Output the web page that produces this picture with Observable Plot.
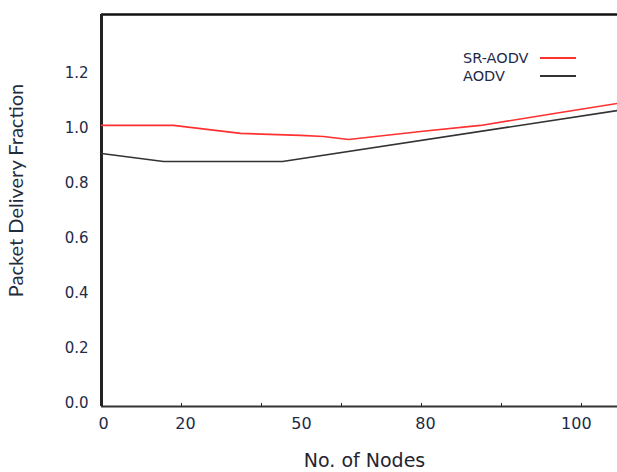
<!DOCTYPE html>
<html>
<head>
<meta charset="utf-8">
<script src="https://cdn.jsdelivr.net/npm/d3@7"></script>
<script src="https://cdn.jsdelivr.net/npm/@observablehq/plot@0.6"></script>
<style>
  html, body { margin: 0; padding: 0; background: #fff; }
  #wrap { position: relative; width: 617px; height: 472px; overflow: hidden; }
  .legend { position: absolute; left: 463px; top: 49px; font: 14.5px "DejaVu Sans", sans-serif; color: #1d2a48; }
  .legend .row { display: flex; align-items: center; height: 18px; }
  .legend .lab { width: 77px; }
  .legend .sw { width: 36px; height: 0; border-top-width: 2px; border-top-style: solid; }
</style>
</head>
<body>
<div id="wrap"></div>
<script>
// Series (x = position along the axis in tick units, y = packet delivery fraction)
const srX = [0, 18, 34.75, 49.75, 55.5, 61.75, 79.75, 94.75, 114.75, 129];
const srY = [1.009, 1.009, 0.980, 0.973, 0.969, 0.958, 0.987, 1.009, 1.056, 1.089];
const aodvX = [0, 15.5, 45.25, 129];
const aodvY = [0.907, 0.878, 0.878, 1.063];

// Axis tick positions & labels
const xTickMarks = [0, 20, 40, 60, 80, 100, 120];
const xLabelPos = [0.5, 21, 50, 81, 118.7];
const xLabelText = ["0", "20", "50", "80", "100"];
const yTicks = [0, 0.2, 0.4, 0.6, 0.8, 1.0, 1.2];
const xDomain = [0, 129];
const yDomain = [-0.011, 1.4115];

const seriesNames = ["SR-AODV", "AODV"];
const seriesColors = ["#ff3030", "#333333"];

const sr = srX.map((x, i) => ({x, y: srY[i]}));
const ao = aodvX.map((x, i) => ({x, y: aodvY[i]}));

const chart = Plot.plot({
  width: 617,
  height: 472,
  marginLeft: 101,
  marginRight: 0,
  marginTop: 14,
  marginBottom: 66,
  x: {domain: xDomain},
  y: {domain: yDomain},
  style: {fontFamily: "DejaVu Sans, sans-serif", color: "#1d2a48", background: "#fff"},
  marks: [
    Plot.axisY({ticks: yTicks, tickFormat: d3.format(".1f"), tickSize: 0, tickPadding: 13, fontSize: 15, label: null}),
    Plot.axisX({ticks: xTickMarks, tickSize: -3, tickFormat: () => "", label: null, stroke: "#222"}),
    Plot.axisX({ticks: xLabelPos, tickSize: 0, tickPadding: 11, fontSize: 16, label: null,
      tickFormat: (d) => xLabelText[xLabelPos.indexOf(d)]}),
    Plot.ruleY([yDomain[1]], {stroke: "#111", strokeWidth: 2.5}),
    Plot.ruleY([yDomain[0]], {stroke: "#333", strokeWidth: 2}),
    Plot.ruleX([xDomain[0]], {stroke: "#222", strokeWidth: 3}),
    Plot.line(ao, {x: "x", y: "y", stroke: seriesColors[1], strokeWidth: 1.6}),
    Plot.line(sr, {x: "x", y: "y", stroke: seriesColors[0], strokeWidth: 1.6}),
    Plot.text(["Packet Delivery Fraction"], {frameAnchor: "left", textAnchor: "middle", lineAnchor: "middle",
      rotate: -90, dx: -85, dy: -20, fontSize: 20, fontFamily: "Lato, sans-serif", fill: "#1f2d3d"}),
    Plot.text(["No. of Nodes"], {frameAnchor: "bottom", textAnchor: "middle", lineAnchor: "middle",
      dx: 5, dy: 54, fontSize: 19, fill: "#1f2430"})
  ]
});
const wrap = document.getElementById("wrap");
wrap.appendChild(chart);

const legend = document.createElement("div");
legend.className = "legend";
seriesNames.forEach((name, i) => {
  const row = document.createElement("div");
  row.className = "row";
  const lab = document.createElement("span");
  lab.className = "lab";
  lab.textContent = name;
  const sw = document.createElement("span");
  sw.className = "sw";
  sw.style.borderTopColor = seriesColors[i];
  row.appendChild(lab);
  row.appendChild(sw);
  legend.appendChild(row);
});
wrap.appendChild(legend);
</script>
</body>
</html>
